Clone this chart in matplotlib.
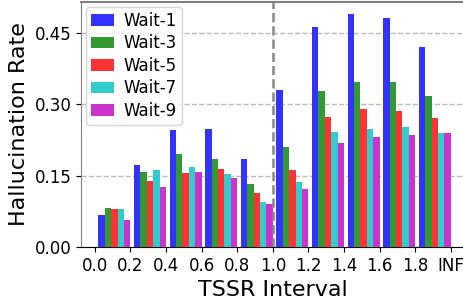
import matplotlib
matplotlib.use("Agg")
import matplotlib.pyplot as plt
import numpy as np

tick_labels = ["0.0", "0.2", "0.4", "0.6", "0.8", "1.0", "1.2", "1.4", "1.6", "1.8", "INF"]
series_names = ["Wait-1", "Wait-3", "Wait-5", "Wait-7", "Wait-9"]
wait1 = [0.067, 0.172, 0.245, 0.248, 0.185, 0.329, 0.462, 0.489, 0.480, 0.420]
wait3 = [0.082, 0.157, 0.195, 0.185, 0.132, 0.210, 0.327, 0.346, 0.346, 0.317]
wait5 = [0.080, 0.138, 0.155, 0.164, 0.113, 0.162, 0.273, 0.290, 0.285, 0.271]
wait7 = [0.080, 0.162, 0.168, 0.153, 0.094, 0.136, 0.241, 0.248, 0.252, 0.239]
wait9 = [0.057, 0.126, 0.157, 0.145, 0.090, 0.122, 0.218, 0.231, 0.235, 0.239]
colors = ["#3333ff", "#339933", "#ff3333", "#33cccc", "#cc33cc"]

series = [wait1, wait3, wait5, wait7, wait9]

fig = plt.figure(figsize=(4.64, 3.02), dpi=100)
ax = fig.add_axes([0.1746, 0.182, 0.8254, 0.8114])

n = len(wait1)
x = np.arange(n)
w = 0.18
for k, (vals, name, c) in enumerate(zip(series, series_names, colors)):
    ax.bar(x + 0.1 + k * w, vals, width=w, align="edge", color=c, label=name, zorder=3)

ax.set_xticks(np.arange(len(tick_labels)))
ax.set_xticklabels(tick_labels)
ax.set_xlim(-0.39, 10.37)
ax.set_ylim(0, 0.514)
ax.set_yticks([0.0, 0.15, 0.30, 0.45])
ax.set_yticklabels(["0.00", "0.15", "0.30", "0.45"])
ax.tick_params(axis="both", labelsize=12)

ax.yaxis.grid(True, linestyle="--", color="#bbbbbb", linewidth=1, zorder=0)
ax.axvline(5, color="#888888", linestyle="--", linewidth=1.8, zorder=4)

for s in ["top", "left"]:
    ax.spines[s].set_color("#808080")
ax.spines["top"].set_linewidth(1.5)
ax.spines["right"].set_visible(False)
ax.spines["bottom"].set_color("black")

ax.set_xlabel("TSSR Interval", fontsize=16)
ax.set_ylabel("Hallucination Rate", fontsize=16)

ax.legend(loc="upper left", fontsize=12, handlelength=1.4, borderpad=0.3,
          labelspacing=0.27, handletextpad=0.55, borderaxespad=0.3)

fig.savefig("out.png", dpi=100)
